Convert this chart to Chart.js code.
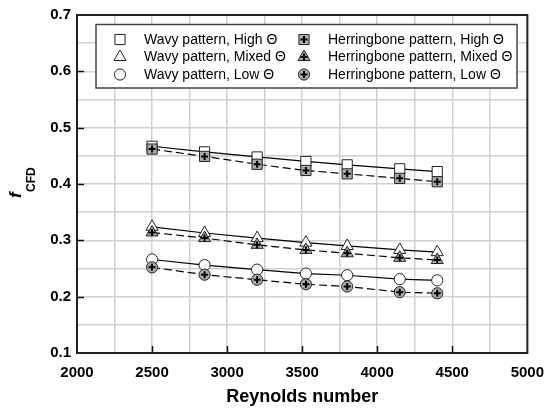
<!DOCTYPE html>
<html><head><meta charset="utf-8">
<script src="https://cdn.jsdelivr.net/npm/chart.js@4/dist/chart.umd.min.js"></script>
<style>html,body{margin:0;padding:0;background:#fff;overflow:hidden}</style>
</head><body>
<canvas id="c" width="555" height="409"></canvas>
<script>
// ---- data ----
const reynolds   = [2500, 2850, 3200, 3525, 3800, 4150, 4400];
const wavyHigh   = [0.467, 0.457, 0.448, 0.440, 0.434, 0.427, 0.422];
const wavyMixed  = [0.324, 0.313, 0.304, 0.296, 0.290, 0.283, 0.279];
const wavyLow    = [0.266, 0.256, 0.248, 0.241, 0.238, 0.231, 0.229];
const herrHigh   = [0.462, 0.449, 0.435, 0.424, 0.418, 0.410, 0.404];
const herrMixed  = [0.314, 0.304, 0.292, 0.283, 0.277, 0.269, 0.265];
const herrLow    = [0.252, 0.239, 0.230, 0.222, 0.218, 0.208, 0.206];
const xTickLabels = ['2000','2500','3000','3500','4000','4500','5000'];
const yTickLabels = ['0.1','0.2','0.3','0.4','0.5','0.6','0.7'];
const seriesLabels = [
  'Wavy pattern, High \u0398', 'Wavy pattern, Mixed \u0398', 'Wavy pattern, Low \u0398',
  'Herringbone pattern, High \u0398', 'Herringbone pattern, Mixed \u0398', 'Herringbone pattern, Low \u0398'
];

const FONT = "'Liberation Sans', Arial, Helvetica, sans-serif";
const pts = arr => reynolds.map((x, i) => ({x: x, y: arr[i]}));
const radii = {rect: 7.2, triangle: 7, circle: 5.6};
const GRAY = '#ababab';

function mainDs(label, data, shape, herring) {
  return {
    label: label, data: pts(data), showLine: true,
    borderColor: '#000', borderWidth: 1.2, borderDash: herring ? [8, 4] : [],
    pointStyle: shape, pointRadius: radii[shape], pointHoverRadius: radii[shape],
    pointBackgroundColor: herring ? GRAY : '#fff', pointBorderColor: '#222', pointBorderWidth: 1,
    order: herring ? 2 : 3, isMain: true, herring: herring
  };
}
function crossDs(data) {
  return {
    label: '', data: pts(data), showLine: false,
    pointStyle: 'cross', pointRadius: 3.5, pointHoverRadius: 3.5,
    pointBorderColor: '#000', pointBorderWidth: 2, pointBackgroundColor: '#000',
    order: 1, isMain: false
  };
}

const datasets = [
  mainDs(seriesLabels[0], wavyHigh, 'rect', false),
  mainDs(seriesLabels[1], wavyMixed, 'triangle', false),
  mainDs(seriesLabels[2], wavyLow, 'circle', false),
  mainDs(seriesLabels[3], herrHigh, 'rect', true),
  mainDs(seriesLabels[4], herrMixed, 'triangle', true),
  mainDs(seriesLabels[5], herrLow, 'circle', true),
  crossDs(herrHigh), crossDs(herrMixed), crossDs(herrLow)
];

function drawShape(ctx, shape, r, x, y) {
  ctx.beginPath();
  if (shape === 'rect') {
    const s = Math.SQRT1_2 * r;
    ctx.rect(x - s, y - s, 2 * s, 2 * s);
  } else if (shape === 'triangle') {
    ctx.moveTo(x, y - r);
    ctx.lineTo(x + Math.sin(Math.PI * 2 / 3) * r, y - Math.cos(Math.PI * 2 / 3) * r);
    ctx.lineTo(x + Math.sin(Math.PI * 4 / 3) * r, y - Math.cos(Math.PI * 4 / 3) * r);
    ctx.closePath();
  } else if (shape === 'circle') {
    ctx.arc(x, y, r, 0, Math.PI * 2);
  }
}

const framePlugin = {
  id: 'frame',
  beforeDatasetsDraw(chart) {
    const {ctx, chartArea: a, scales: {x, y}} = chart;
    ctx.save();
    ctx.strokeStyle = '#111';
    ctx.lineWidth = 1.5;
    ctx.beginPath();
    xTickLabels.forEach(t => {
      const v = +t;
      if (v === x.min || v === x.max) return;
      const px = Math.round(x.getPixelForValue(v)) + 0.5;
      ctx.moveTo(px, a.bottom); ctx.lineTo(px, a.bottom - 7);
    });
    yTickLabels.forEach(t => {
      const v = +t;
      if (Math.abs(v - y.min) < 1e-9 || Math.abs(v - y.max) < 1e-9) return;
      const py = Math.round(y.getPixelForValue(v)) + 0.5;
      ctx.moveTo(a.left, py); ctx.lineTo(a.left + 7, py);
    });
    ctx.stroke();
    ctx.strokeStyle = '#222';
    ctx.lineWidth = 2;
    ctx.strokeRect(a.left, a.top, a.right - a.left, a.bottom - a.top);
    ctx.restore();
  },
  afterDatasetsDraw(chart) {
    const {ctx, chartArea: a} = chart;
    // legend box
    const bx = a.left + 19, by = a.top + 9.5, bw = 421, bh = 63.5;
    ctx.save();
    ctx.fillStyle = '#fff';
    ctx.fillRect(bx, by, bw, bh);
    ctx.strokeStyle = '#444';
    ctx.lineWidth = 1.5;
    ctx.strokeRect(bx, by, bw, bh);
    const rowY = [by + 15, by + 32.5, by + 50];
    const colMarker = [bx + 24, bx + 208];
    const colText = [bx + 48, bx + 232];
    ctx.font = '14px ' + FONT;
    ctx.textBaseline = 'middle';
    ctx.textAlign = 'left';
    chart.data.datasets.filter(d => d.isMain).forEach((d, i) => {
      const col = d.herring ? 1 : 0;
      const row = i % 3;
      const mx = colMarker[col], my = rowY[row];
      ctx.fillStyle = d.pointBackgroundColor;
      ctx.strokeStyle = d.pointBorderColor;
      ctx.lineWidth = 1;
      drawShape(ctx, d.pointStyle, d.pointRadius, mx, my);
      ctx.fill(); ctx.stroke();
      if (d.herring) {
        ctx.strokeStyle = '#000'; ctx.lineWidth = 2;
        ctx.beginPath();
        ctx.moveTo(mx - 3.5, my); ctx.lineTo(mx + 3.5, my);
        ctx.moveTo(mx, my - 3.5); ctx.lineTo(mx, my + 3.5);
        ctx.stroke();
      }
      ctx.fillStyle = '#000';
      ctx.fillText(d.label, colText[col], my + 0.5);
    });
    ctx.restore();
  },
  afterDraw(chart) {
    const ctx = chart.ctx;
    ctx.save();
    ctx.fillStyle = '#000';
    ctx.translate(21, 198);
    ctx.rotate(-Math.PI / 2);
    ctx.font = 'italic bold 17px ' + FONT;
    ctx.textBaseline = 'alphabetic';
    ctx.fillText('f', 0, 0);
    ctx.restore();
    ctx.save();
    ctx.fillStyle = '#000';
    ctx.translate(35, 192);
    ctx.rotate(-Math.PI / 2);
    ctx.font = 'bold 12px ' + FONT;
    ctx.textBaseline = 'alphabetic';
    ctx.fillText('CFD', 0, 0);
    ctx.restore();
  }
};

const tickFont = {family: FONT, size: 15, weight: 'bold'};

new Chart(document.getElementById('c'), {
  type: 'scatter',
  data: {datasets: datasets},
  options: {
    responsive: false, animation: false, devicePixelRatio: 1,
    layout: {padding: {top: 13, right: 27, left: 0, bottom: 0}},
    plugins: {legend: {display: false}, tooltip: {enabled: false}},
    scales: {
      x: {
        type: 'linear', min: 2000, max: 5000,
        ticks: {
          stepSize: 250, autoSkip: false, maxRotation: 0, padding: 11,
          font: tickFont, color: '#000',
          callback: v => { const s = String(Math.round(v)); return xTickLabels.includes(s) ? s : ''; }
        },
        grid: {color: '#d0d0d0', lineWidth: 1.5, drawTicks: false},
        border: {display: false},
        title: {display: true, text: 'Reynolds number', color: '#000',
                font: {family: FONT, size: 18, weight: 'bold'}, padding: {top: 0, bottom: 1}},
        afterFit: s => { s.height = 56; }
      },
      y: {
        type: 'linear', min: 0.1, max: 0.7,
        ticks: {
          stepSize: 0.05, autoSkip: false, padding: 6,
          font: tickFont, color: '#000',
          callback: v => { const t = (Math.round(v * 10) / 10).toFixed(1);
                           return (Math.abs(v * 10 - Math.round(v * 10)) < 1e-6 && yTickLabels.includes(t)) ? t : ''; }
        },
        grid: {color: '#d0d0d0', lineWidth: 1.5, drawTicks: false},
        border: {display: false},
        afterFit: s => { s.width = 77; }
      }
    }
  },
  plugins: [framePlugin]
});
</script>
</body></html>
